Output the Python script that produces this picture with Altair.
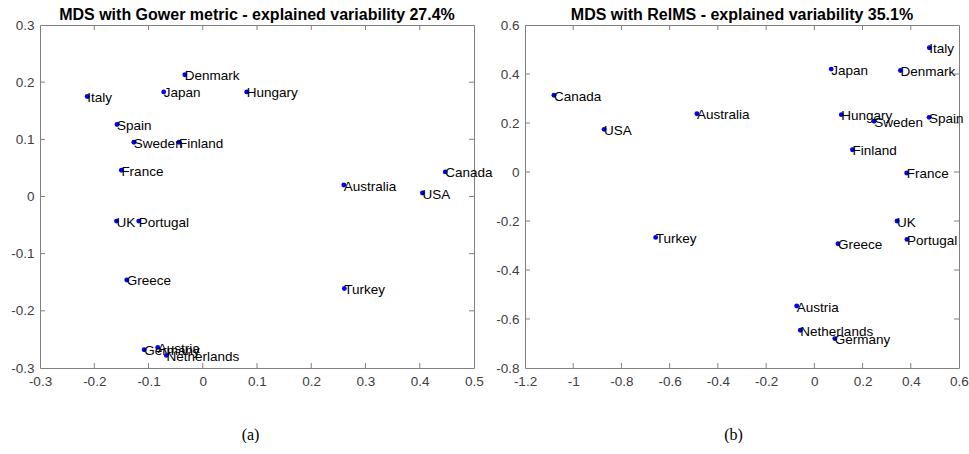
import altair as alt
import pandas as pd

# --- MDS coordinates, Gower metric ---
gower_country = ["Denmark", "Japan", "Hungary", "Italy", "Spain", "Sweden", "Finland",
                 "France", "Canada", "Australia", "USA", "UK", "Portugal", "Greece",
                 "Turkey", "Austria", "Germany", "Netherlands"]
gower_x = [-0.033, -0.072, 0.081, -0.213, -0.158, -0.127, -0.044,
           -0.150, 0.447, 0.260, 0.405, -0.159, -0.118, -0.140,
           0.261, -0.083, -0.108, -0.067]
gower_y = [0.213, 0.183, 0.183, 0.175, 0.126, 0.095, 0.095,
           0.046, 0.043, 0.020, 0.006, -0.043, -0.043, -0.146,
           -0.161, -0.264, -0.268, -0.278]

# --- MDS coordinates, RelMS ---
relms_country = ["Italy", "Japan", "Denmark", "Canada", "Australia", "Hungary", "Sweden",
                 "Spain", "USA", "Finland", "France", "UK", "Turkey", "Greece",
                 "Portugal", "Austria", "Netherlands", "Germany"]
relms_x = [0.477, 0.070, 0.357, -1.080, -0.487, 0.112, 0.248,
           0.476, -0.872, 0.158, 0.383, 0.343, -0.658, 0.098,
           0.384, -0.073, -0.058, 0.085]
relms_y = [0.507, 0.420, 0.414, 0.313, 0.238, 0.234, 0.207,
           0.223, 0.174, 0.091, -0.004, -0.200, -0.267, -0.293,
           -0.275, -0.547, -0.646, -0.680]

# axis ticks
gower_xticks = [-0.3, -0.2, -0.1, 0, 0.1, 0.2, 0.3, 0.4, 0.5]
gower_yticks = [-0.3, -0.2, -0.1, 0, 0.1, 0.2, 0.3]
relms_xticks = [-1.2, -1, -0.8, -0.6, -0.4, -0.2, 0, 0.2, 0.4, 0.6]
relms_yticks = [-0.8, -0.6, -0.4, -0.2, 0, 0.2, 0.4, 0.6]

W, H = 434, 343
FONT = "Liberation Sans"
AX_COLOR = "#808080"
LABEL_COLOR = "#404040"
TICK_LEN = 5
MINUS_FIX = "replace(datum.label, '\u2212', '-')"


def mds_panel(names, xs, ys, xticks, yticks, title, caption, caption_x):
    pts = pd.DataFrame({"country": names, "x": xs, "y": ys})
    xdom = [xticks[0], xticks[-1]]
    ydom = [yticks[0], yticks[-1]]

    xscale = alt.Scale(domain=xdom, nice=False, zero=False)
    yscale = alt.Scale(domain=ydom, nice=False, zero=False)

    common = dict(format=".1~f", labelExpr=MINUS_FIX, ticks=False, domain=False,
                  grid=False, labelFont=FONT, labelFontSize=13.5, labelColor=LABEL_COLOR,
                  labelPadding=6, labelFlush=False, labelOverlap=False)
    xaxis = alt.Axis(values=xticks, title=caption, titleX=caption_x,
                     titleFont="Liberation Serif", titleFontSize=16,
                     titleFontWeight="normal", titleColor="black", titlePadding=39,
                     **common)
    yaxis = alt.Axis(values=yticks, title=None, minExtent=39, maxExtent=39, **common)

    base = alt.Chart(pts).encode(
        x=alt.X("x:Q", scale=xscale, axis=xaxis),
        y=alt.Y("y:Q", scale=yscale, axis=yaxis),
    )
    dots = base.mark_circle(size=24, color="#0000ff", opacity=1)
    labels = base.mark_text(align="left", baseline="middle", dx=0, dy=1.5,
                            font=FONT, fontSize=13.5, color="black").encode(text="country:N")

    xt = pd.DataFrame({"t": xticks[1:-1]})
    yt = pd.DataFrame({"t": yticks[1:-1]})
    tick_style = dict(color=AX_COLOR, strokeWidth=1)
    bottom = alt.Chart(xt).mark_rule(**tick_style).encode(
        x=alt.X("t:Q", scale=xscale), y=alt.value(H), y2=alt.value(H - TICK_LEN))
    top = alt.Chart(xt).mark_rule(**tick_style).encode(
        x=alt.X("t:Q", scale=xscale), y=alt.value(0), y2=alt.value(TICK_LEN))
    left = alt.Chart(yt).mark_rule(**tick_style).encode(
        y=alt.Y("t:Q", scale=yscale), x=alt.value(0), x2=alt.value(TICK_LEN))
    right = alt.Chart(yt).mark_rule(**tick_style).encode(
        y=alt.Y("t:Q", scale=yscale), x=alt.value(W), x2=alt.value(W - TICK_LEN))

    return alt.layer(bottom, top, left, right, dots, labels).properties(
        width=W, height=H,
        title=alt.TitleParams(title, font=FONT, fontSize=16, fontWeight="bold",
                              color="black", anchor="middle", frame="group", offset=-5),
    )


left_panel = mds_panel(gower_country, gower_x, gower_y, gower_xticks, gower_yticks,
                       "MDS with Gower metric - explained variability 27.4%", "(a)", 210)
right_panel = mds_panel(relms_country, relms_x, relms_y, relms_xticks, relms_yticks,
                        "MDS with RelMS - explained variability 35.1%", "(b)", 208)

chart = alt.hconcat(left_panel, right_panel, spacing=51, bounds="flush").properties(
    padding={"left": 0, "top": 6, "right": 0, "bottom": 0},
    background="white",
).configure_view(stroke=AX_COLOR, strokeWidth=1)

chart.save("out.html", embed_options={"renderer": "svg", "actions": False})
